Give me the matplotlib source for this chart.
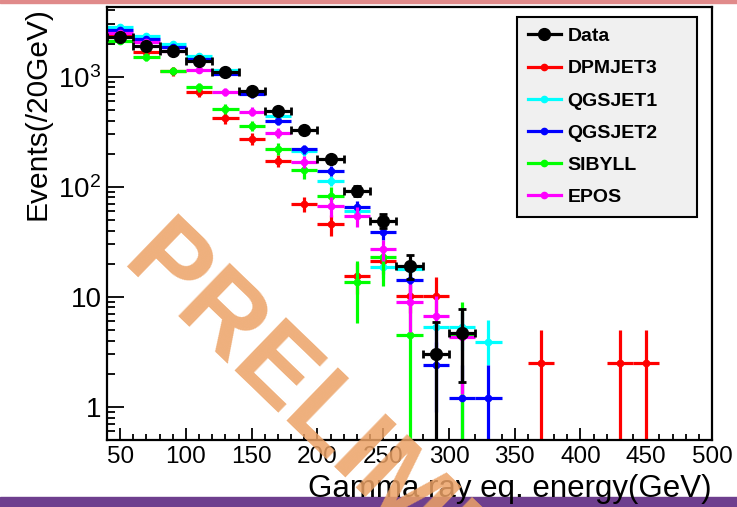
import matplotlib
matplotlib.use("Agg")
import matplotlib.pyplot as plt
from matplotlib.lines import Line2D
from matplotlib.patches import Rectangle
from matplotlib.ticker import FixedLocator, NullFormatter

plt.rcParams['font.family'] = ['Liberation Sans', 'DejaVu Sans']
plt.rcParams['mathtext.fontset'] = 'custom'
plt.rcParams['mathtext.rm'] = 'Liberation Sans'
plt.rcParams['mathtext.it'] = 'Liberation Sans:italic'
plt.rcParams['mathtext.bf'] = 'Liberation Sans:bold'

bin_half_width = 10  # GeV (20 GeV bins)

# ---- Data ----
data_x = [50, 70, 90, 110, 130, 150, 170, 190, 210, 230, 250, 270, 290, 310]
data_y = [2310, 1890, 1720, 1380, 1110, 746, 490, 330, 178, 92, 49, 19.1, 3.0, 4.7]
data_lo = [48, 43, 41, 37, 33, 27, 22, 18, 13, 9.6, 7.0, 4.5, 2.8, 3.0]
data_hi = [48, 43, 41, 37, 33, 27, 22, 18, 13, 9.6, 7.0, 4.9, 2.9, 3.1]

# ---- DPMJET3 ----
dpm_x = [50, 70, 90, 110, 130, 150, 170, 190, 210, 230, 250, 270, 290, 370, 430, 450]
dpm_y = [2400, 1690, 1120, 731, 424, 273, 172, 70, 46, 15.5, 21, 10.2, 10.2, 2.5, 2.5, 2.5]
dpm_lo = [180, 150, 110, 80, 50, 32, 22, 11, 10, 5, 5, 3, 2.9, 2.3, 2.3, 2.3]
dpm_hi = [180, 150, 110, 80, 50, 32, 22, 11, 9, 5, 5, 3, 5.0, 2.5, 2.5, 2.5]

# ---- QGSJET1 ----
qg1_x = [50, 70, 90, 110, 130, 150, 170, 190, 210, 230, 250, 270, 290, 310, 330]
qg1_y = [2850, 2360, 1990, 1540, 1150, 720, 442, 210, 113, 60, 18.7, 18, 5.3, 5.3, 3.9]
qg1_lo = [150, 130, 110, 90, 70, 50, 35, 20, 12, 8, 4, 4, 2, 2, 1.5]
qg1_hi = [150, 130, 110, 90, 70, 50, 35, 20, 12, 8, 4, 4, 2, 2, 2.2]

# ---- QGSJET2 ----
qg2_x = [50, 70, 90, 110, 130, 150, 170, 190, 210, 230, 250, 270, 290, 310, 330]
qg2_y = [2630, 2200, 1880, 1450, 1060, 690, 398, 219, 140, 65, 38.5, 14.3, 2.4, 1.2, 1.2]
qg2_lo = [150, 130, 110, 90, 70, 50, 35, 20, 14, 9, 6, 4, 1.5, 1.0, 1.0]
qg2_hi = [150, 130, 110, 90, 70, 50, 35, 20, 14, 9, 6, 4, 1.5, 1.2, 1.2]

# ---- SIBYLL ----
sib_x = [50, 70, 90, 110, 130, 150, 170, 190, 210, 230, 250, 270, 310]
sib_y = [2120, 1520, 1135, 800, 512, 360, 221, 142, 83, 13.7, 23, 4.5, 4.5]
sib_lo = [150, 120, 95, 75, 55, 40, 28, 25, 16, 7.9, 10.4, 4.3, 4.3]
sib_hi = [150, 120, 95, 75, 55, 40, 28, 25, 16, 7.3, 4, 4.5, 4.5]

# ---- EPOS ----
epos_x = [50, 70, 90, 110, 130, 150, 170, 190, 210, 230, 250, 270, 290, 310]
epos_y = [2510, 2080, 1730, 1160, 731, 481, 310, 169, 67, 54, 27, 9.0, 6.7, 4.3]
epos_lo = [150, 130, 110, 85, 60, 45, 32, 20, 14, 11, 6, 4.2, 3.8, 3.0]
epos_hi = [150, 130, 110, 85, 60, 45, 32, 20, 14, 12, 6, 4.0, 3.5, 3.0]

x_ticks = [50, 100, 150, 200, 250, 300, 350, 400, 450, 500]
y_ticks = [1, 10, 100, 1000]
y_tick_labels = ['1', '10', r'$10^2$', r'$10^3$']

W, H = 737, 507
fig = plt.figure(figsize=(W / 100, H / 100), dpi=100)
ax = fig.add_axes([107 / W, 1 - 440 / H, 605 / W, 433 / H])

# decoration bands
fig.patches.append(Rectangle((0, 1 - 3 / H), 1, 3 / H, transform=fig.transFigure,
                             color='#E08A8A', zorder=-1))
fig.patches.append(Rectangle((0, 0), 1, 10 / H, transform=fig.transFigure,
                             color='#6E3F8E', zorder=-1))

series = [
    (dpm_x, dpm_y, dpm_lo, dpm_hi, '#FF0000', 'DPMJET3'),
    (qg1_x, qg1_y, qg1_lo, qg1_hi, '#00FFFF', 'QGSJET1'),
    (qg2_x, qg2_y, qg2_lo, qg2_hi, '#0000FF', 'QGSJET2'),
    (sib_x, sib_y, sib_lo, sib_hi, '#00FF00', 'SIBYLL'),
    (epos_x, epos_y, epos_lo, epos_hi, '#FF00FF', 'EPOS'),
]
for i, (xs, ys, lo, hi, col, lab) in enumerate(series):
    ax.errorbar(xs, ys, xerr=bin_half_width, yerr=[lo, hi], fmt='o', color=col,
                ms=4.5, elinewidth=2.3, capsize=0, zorder=2 + i * 0.1)

ax.errorbar(data_x, data_y, xerr=bin_half_width, yerr=[data_lo, data_hi], fmt='o',
            color='black', ms=8.5, elinewidth=2.3, capsize=3, capthick=2, zorder=3)

ax.set_yscale('log')
ax.set_xlim(40, 500)
ax.set_ylim(0.5, 4300)

ax.xaxis.set_major_locator(FixedLocator(x_ticks))
ax.xaxis.set_minor_locator(FixedLocator(list(range(40, 501, 10))))
ax.set_xticklabels([str(v) for v in x_ticks])
ax.set_yticks(y_ticks)
ax.set_yticklabels(y_tick_labels)
minor_y = [m * 10 ** e for e in range(-1, 4) for m in range(2, 10)]
ax.yaxis.set_minor_locator(FixedLocator([v for v in minor_y if 0.5 <= v <= 4300]))
ax.yaxis.set_minor_formatter(NullFormatter())

ax.tick_params(axis='both', which='both', direction='in', top=False, right=False,
               width=1.3, color='black')
ax.tick_params(axis='y', which='major', length=12, labelsize=20, pad=4)
ax.tick_params(axis='y', which='minor', length=6)
ax.tick_params(axis='x', which='major', length=9, labelsize=17.5, pad=4)
ax.tick_params(axis='x', which='minor', length=4.5)
for sp in ax.spines.values():
    sp.set_linewidth(1.6)

ax.set_xlabel('Gamma ray eq. energy(GeV)', loc='right', fontsize=22.5, labelpad=5)
ax.set_ylabel('Events(/20GeV)', loc='top', fontsize=21.5, labelpad=5)

handles = [Line2D([], [], color='black', marker='o', ms=8.5, lw=2.3)]
labels = ['Data']
for xs, ys, lo, hi, col, lab in series:
    handles.append(Line2D([], [], color=col, marker='o', ms=4.5, lw=2.3))
    labels.append(lab)
leg = ax.legend(handles, labels, loc='upper left',
                bbox_to_anchor=(0.678, 0.524, 0.297, 0.453), mode='expand',
                prop={'weight': 'bold', 'size': 14}, frameon=True, fancybox=False,
                edgecolor='black', facecolor='#F0F0F0', framealpha=1,
                handlelength=1.7, handletextpad=0.35, labelspacing=0.75,
                borderpad=0.55, borderaxespad=0)
leg.get_frame().set_linewidth(1.5)
leg.set_zorder(5)

fig.text(119 / W, 1 - 266 / H, 'PRELIMINARY', rotation=-44, rotation_mode='anchor',
         ha='left', va='baseline', fontsize=78, fontweight='bold',
         color='#ECA266', alpha=0.85, zorder=10)

fig.savefig('out.png', dpi=100)
